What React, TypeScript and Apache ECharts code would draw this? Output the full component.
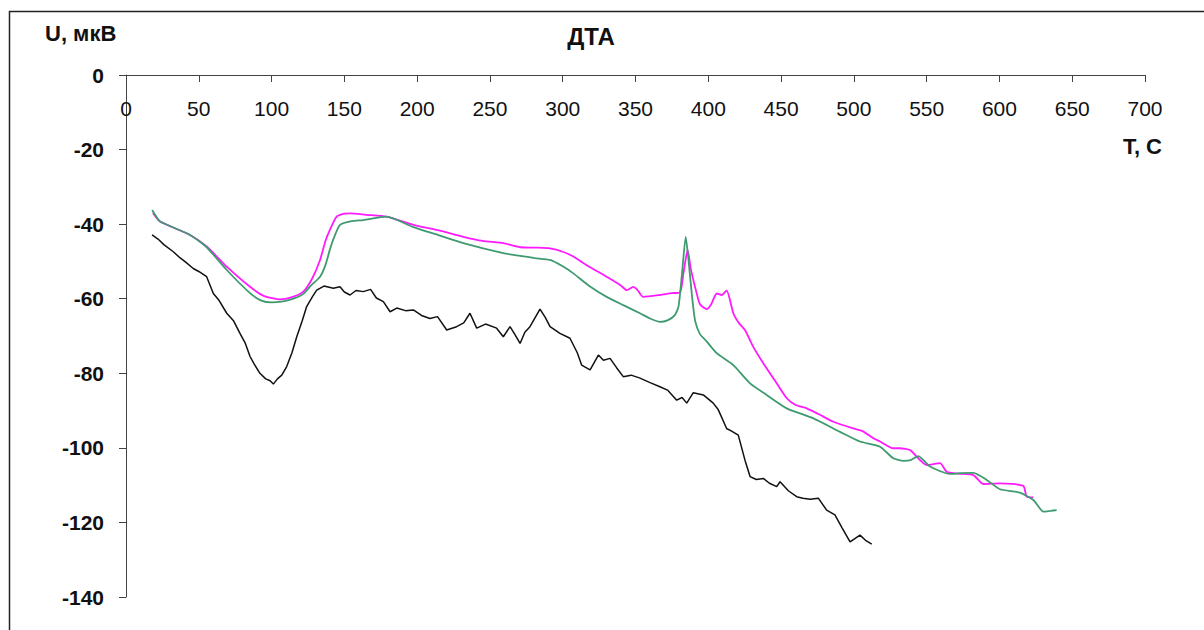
import React, { useEffect, useRef } from "react";
import * as echarts from "echarts";

const xTicks = { min: 0, max: 700, interval: 50 };
const yTicks = { min: -140, max: 0, interval: 20 };

const magentaData: number[][] = [
  [18.5, -37], [23.4, -39.3], [44, -42.9], [55.4, -46], [69.2, -51.4], [85.2, -56.8], [95, -59.3], [105.8, -60.2],
  [114, -59.6], [121.8, -58.1], [128, -54.5], [133.3, -49.6], [137, -44.5], [140, -41.6], [144.7, -38], [150, -37.2],
  [153.9, -37.1], [165, -37.5], [179, -38], [197.4, -40.2], [215, -41.7], [231.7, -43.4], [245, -44.5], [259.2, -45.1],
  [270.7, -46.2], [283, -46.3], [291.3, -46.5], [300, -47.4], [307.3, -48.7], [316.5, -51], [330.2, -54.1], [339.4, -56.3],
  [344, -57.7], [348.5, -56.8], [351, -57.5], [355.4, -59.5], [366.8, -59], [375, -58.5], [380.6, -58.3], [383, -53],
  [385.8, -46.9], [388, -52], [392, -58.5], [394.3, -61.5], [398.9, -62.8], [402, -61.5], [405.8, -58.6], [409.2, -59],
  [412.6, -57.8], [417.2, -63.9], [421, -66.5], [425.2, -68.4], [430.9, -72.9], [437.8, -77.3], [447, -82.7], [453.9, -86.7],
  [460, -88.5], [467.6, -89.4], [476, -91], [485.9, -93], [499.6, -94.8], [506, -95.5], [513.4, -97.4], [518, -98.3],
  [527.1, -100.1], [531.7, -100.1], [538.6, -100.6], [550, -104.6], [559.2, -104.1], [563.8, -106.4], [572, -106.9],
  [582.1, -107.3], [588.9, -109.7], [600.4, -109.5], [616.4, -110.2], [618.7, -113.1], [623.3, -113.3],
];

const greenData: number[][] = [
  [18, -36.2], [20, -37.5], [23.4, -39.3], [44, -42.9], [55.4, -46.2], [69.2, -52.3], [85.2, -58.5], [93, -60.5],
  [100, -61], [108, -60.7], [115, -60], [121.8, -58.7], [127, -56.5], [133.3, -54.1], [137, -51], [140, -46.9],
  [143, -43.5], [147, -40.2], [155, -39.2], [163, -38.9], [179, -38], [197.4, -40.8], [215, -43], [231.7, -45.1],
  [259.2, -47.8], [270.7, -48.5], [281, -49.1], [291.3, -49.6], [300, -51.3], [307.3, -53.2], [318, -56.5], [330.2, -59.5],
  [342, -61.8], [353.1, -63.9], [360, -65.3], [366.8, -66.2], [372, -65.8], [377, -64.4], [379.6, -62], [382, -53],
  [384.5, -43.4], [386.5, -50], [389, -60], [391, -66], [394.3, -69.5], [399, -71.5], [405.8, -74.6], [417.2, -77.8],
  [428.7, -82.7], [440.1, -85.8], [453.9, -89.4], [472.2, -92.1], [490.5, -95.7], [504.2, -98.3], [518, -99.7],
  [527.1, -102.8], [534, -103.5], [539, -103.3], [544.3, -102.2], [552.3, -105], [566, -107], [573, -106.8],
  [582.1, -106.7], [591.3, -108.6], [600.4, -111.1], [614.1, -112], [623.3, -114], [630.2, -117.1], [635, -116.9],
  [639.3, -116.7],
];

const blackData: number[][] = [
  [17.9, -42.9], [22, -44], [26, -45.5], [32.5, -47.4], [37, -49], [41, -50.2], [46.2, -51.9], [50, -52.7], [55.4, -54.1],
  [60, -58.6], [64, -60.5], [69.2, -63.9], [74, -66], [78.3, -69.3], [82, -72], [85.2, -75.5], [88, -77.5], [92, -80],
  [96, -81.5], [99, -82], [101.2, -82.9], [104, -81.5], [107, -80.5], [110.4, -78.2], [114, -74.5], [117.3, -70.2],
  [121, -66], [124.1, -62.1], [128, -59.5], [131, -57.7], [136, -56.6], [142.4, -57.2], [147, -56.8], [150, -58.2],
  [153.9, -59], [158, -57.8], [163, -58.1], [168, -57.5], [172, -59.8], [176.8, -60.8], [181.4, -63.5], [186, -62.5],
  [192, -63.2], [197.4, -63], [203, -64.5], [208.8, -65.3], [214, -64.8], [220.3, -68.4], [227.1, -67.5], [232, -66.5],
  [236.3, -63.9], [240.9, -67.9], [247, -66.8], [254.6, -67.9], [259.2, -70.2], [263.8, -67.5], [267, -69.5], [270.7, -72],
  [274, -69], [277.5, -67.5], [284.4, -62.8], [288, -65], [291.3, -67.5], [298.1, -69.3], [305, -70.6], [310, -74.5],
  [313, -77.8], [318.8, -79.1], [324.5, -75.1], [328, -76.5], [332.5, -76], [337, -78.5], [341.6, -80.9], [347, -80.5],
  [353.1, -81.3], [360, -82.5], [366.8, -83.6], [372, -84.5], [378.3, -87.2], [382, -86.5], [385.2, -88], [389.7, -85.2],
  [396.6, -85.8], [403.4, -88], [406.9, -89.8], [412.6, -94.8], [416, -95.5], [420.6, -96.6], [425.2, -103.3],
  [428.7, -107.7], [433, -108.5], [437.8, -108.2], [442, -109.5], [447, -110.4], [449.3, -109.1], [455, -111.5],
  [460.7, -113.1], [465, -113.5], [470, -113.8], [475.6, -113.5], [481.3, -116.7], [487, -118], [492, -121.5],
  [497.4, -125.2], [504.2, -123.4], [508, -124.8], [512.3, -125.8],
];

const titleText = "ДТА";
const yName = "U, мкВ";
const xName = "T, C";

const FONT = "'Liberation Sans', Arial, sans-serif";

export default function App() {
  const ref = useRef<HTMLDivElement>(null);
  useEffect(() => {
    if (!ref.current) return;
    const chart = echarts.init(ref.current, undefined, { renderer: "svg" });
    const axisColor = "#444";
    chart.setOption({
      animation: false,
      backgroundColor: "#fff",
      textStyle: { fontFamily: FONT },
      grid: { left: 126, top: 75, right: 59, bottom: 33, containLabel: false },
      xAxis: {
        type: "value",
        position: "top",
        min: xTicks.min,
        max: xTicks.max,
        interval: xTicks.interval,
        axisLine: { show: true, onZero: false, lineStyle: { color: axisColor, width: 1 } },
        axisTick: { show: true, inside: true, length: 7, lineStyle: { color: axisColor } },
        axisLabel: { inside: true, margin: 23, fontSize: 21, color: "#111", fontFamily: FONT },
        splitLine: { show: false },
      },
      yAxis: {
        type: "value",
        min: yTicks.min,
        max: yTicks.max,
        interval: yTicks.interval,
        axisLine: { show: true, onZero: false, lineStyle: { color: axisColor, width: 1 } },
        axisTick: { show: true, inside: false, length: 7, lineStyle: { color: axisColor } },
        axisLabel: { margin: 22, fontSize: 21, fontWeight: "bold", color: "#111", fontFamily: FONT },
        splitLine: { show: false },
      },
      series: [
        { type: "line", data: blackData, showSymbol: false, lineStyle: { color: "#111", width: 1.5 }, z: 3 },
        { type: "line", data: greenData, showSymbol: false, smooth: 0.2, lineStyle: { color: "#3f9b6f", width: 1.8 }, z: 4 },
        { type: "line", data: magentaData, showSymbol: false, smooth: 0.2, lineStyle: { color: "#ff1aff", width: 1.8 }, z: 2 },
      ],
      graphic: [
        {
          type: "rect",
          shape: { x: 9.5, y: 11.5, width: 1300, height: 700 },
          style: { fill: "none", stroke: "#222", lineWidth: 1.5 },
          silent: true,
          z: -1,
        },
        {
          type: "text",
          x: 591,
          y: 36,
          style: { text: titleText, fontSize: 24, fontWeight: "bold", fill: "#111", align: "center", verticalAlign: "middle", fontFamily: FONT },
        },
        {
          type: "text",
          x: 45,
          y: 33,
          style: { text: yName, fontSize: 22, fontWeight: "bold", fill: "#111", align: "left", verticalAlign: "middle", fontFamily: FONT },
        },
        {
          type: "text",
          x: 1162,
          y: 146,
          style: { text: xName, fontSize: 22, fontWeight: "bold", fill: "#111", align: "right", verticalAlign: "middle", fontFamily: FONT },
        },
      ],
    });
    return () => chart.dispose();
  }, []);
  return <div ref={ref} style={{ position: "absolute", left: 0, top: 0, width: 1204, height: 630 }} />;
}
